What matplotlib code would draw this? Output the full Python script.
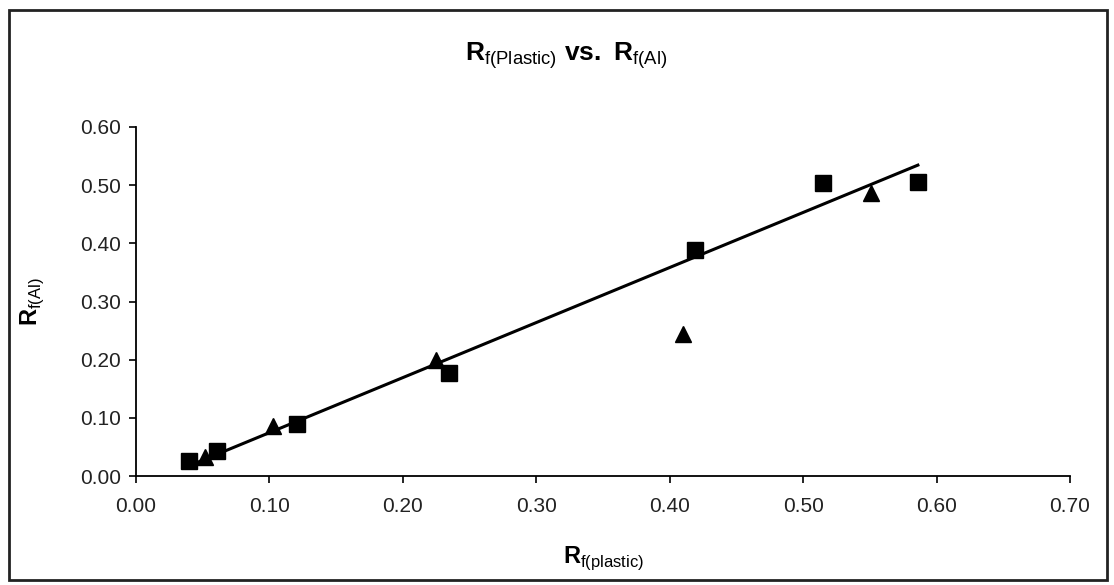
import matplotlib.pyplot as plt
import numpy as np
from matplotlib.patches import Rectangle
from matplotlib.ticker import FormatStrFormatter

plt.rcParams['font.family'] = ['Liberation Sans', 'DejaVu Sans']
plt.rcParams['mathtext.fontset'] = 'custom'
plt.rcParams['mathtext.rm'] = 'Liberation Sans'
plt.rcParams['mathtext.bf'] = 'Liberation Sans:bold'

# Rf on plastic vs. Rf on aluminium plates
sq_x = [0.040, 0.061, 0.121, 0.235, 0.419, 0.515, 0.586]
sq_y = [0.026, 0.043, 0.089, 0.177, 0.388, 0.503, 0.505]
tri_x = [0.052, 0.103, 0.225, 0.410, 0.551]
tri_y = [0.033, 0.086, 0.199, 0.244, 0.486]

x_ticks = [0.0, 0.1, 0.2, 0.3, 0.4, 0.5, 0.6, 0.7]
y_ticks = [0.0, 0.1, 0.2, 0.3, 0.4, 0.5, 0.6]

fig = plt.figure(figsize=(11.14, 5.85), dpi=100)
ax = fig.add_axes([0.122, 0.186, 0.8385, 0.597])

ax.plot(sq_x, sq_y, ls='', marker='s', ms=11, color='black')
ax.plot(tri_x, tri_y, ls='', marker='^', ms=11, color='black')

# linear trendline through the square series
k, b = np.polyfit(sq_x, sq_y, 1)
xx = np.array([min(sq_x), max(sq_x)])
ax.plot(xx, k * xx + b, color='black', lw=2.2)

ax.set_xlim(0, 0.7)
ax.set_ylim(0, 0.6)
ax.set_xticks(x_ticks)
ax.set_yticks(y_ticks)
ax.xaxis.set_major_formatter(FormatStrFormatter('%.2f'))
ax.yaxis.set_major_formatter(FormatStrFormatter('%.2f'))
ax.tick_params(direction='out', length=5, width=1.2, labelsize=15,
               labelcolor='#222222', pad=6)
ax.xaxis.set_tick_params(pad=10)
for s in ['top', 'right']:
    ax.spines[s].set_visible(False)
for s in ['left', 'bottom']:
    ax.spines[s].set_linewidth(1.3)

fig.text(0.508, 0.905, r'$\mathbf{R}_{\mathrm{f(Plastic)}}$ $\mathbf{vs.}$ $\mathbf{R}_{\mathrm{f(Al)}}$',
         ha='center', va='center', fontsize=19)
ax.set_xlabel(r'$\mathbf{R}_{\mathrm{f(plastic)}}$', fontsize=17, labelpad=20)
ax.set_ylabel(r'$\mathbf{R}_{\mathrm{f(Al)}}$', fontsize=17, labelpad=24)

fig.patches.append(Rectangle((0.008, 0.009), 0.986, 0.974, transform=fig.transFigure,
                             fill=False, edgecolor='#222222', lw=2))

fig.savefig('out.png', dpi=100)
